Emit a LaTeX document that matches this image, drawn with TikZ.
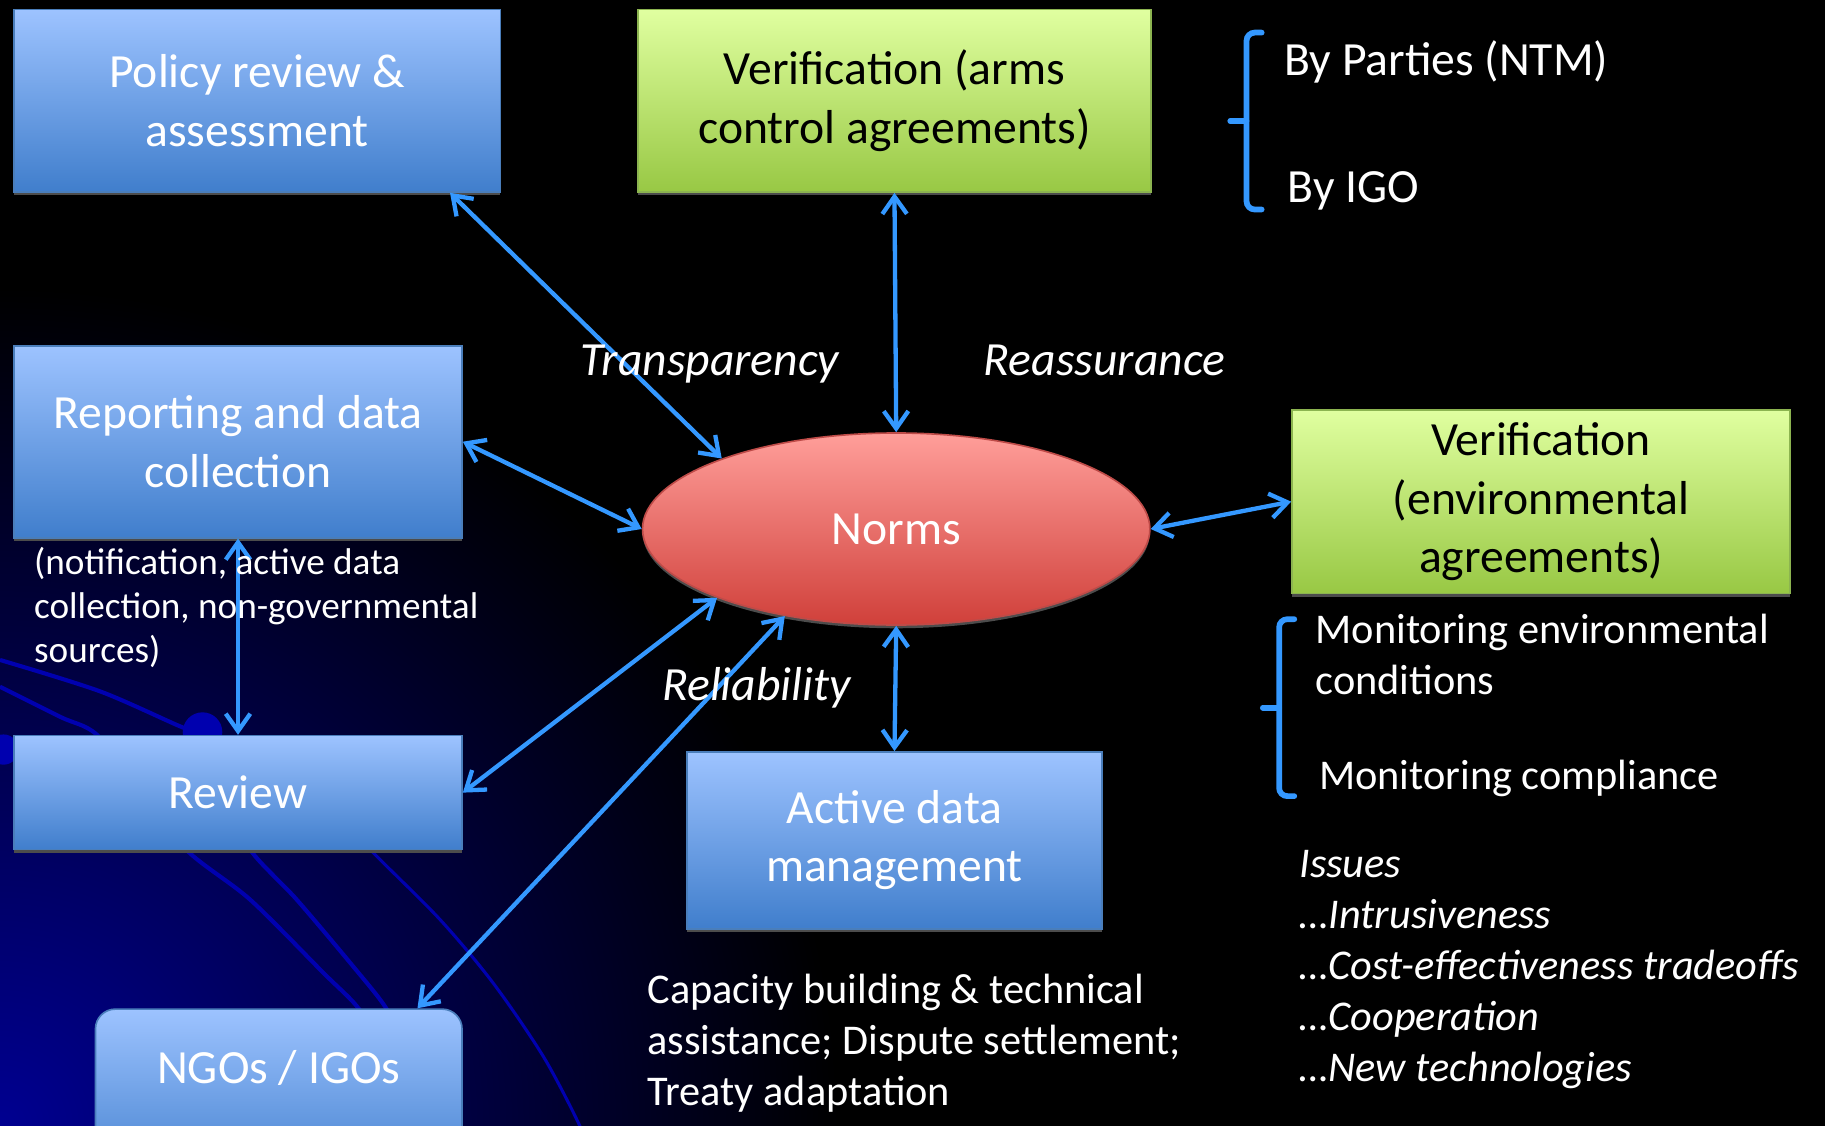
\documentclass[tikz,border=0pt]{standalone}
\usepackage{fontspec}
\setmainfont{Carlito}
\usetikzlibrary{arrows.meta,calc,positioning,shapes.geometric,shadows}

\definecolor{linkblue}{RGB}{52,152,255}
\definecolor{boxtop}{RGB}{157,195,255}
\definecolor{boxbottom}{RGB}{64,126,204}
\definecolor{boxline}{RGB}{74,126,187}
\definecolor{greentop}{RGB}{224,255,160}
\definecolor{greenbottom}{RGB}{152,200,68}
\definecolor{greenline}{RGB}{140,180,80}
\definecolor{normtop}{RGB}{255,158,154}
\definecolor{normbottom}{RGB}{208,64,58}
\definecolor{normline}{RGB}{190,75,72}
\definecolor{swoosh}{RGB}{0,0,175}
\definecolor{glow}{RGB}{0,0,145}

\newcommand{\boxfont}{\fontsize{23.3}{28.45}\selectfont}
\newcommand{\listfont}{\fontsize{20.7}{25}\selectfont}
\newcommand{\notefont}{\fontsize{18.2}{21.6}\selectfont}

\tikzset{%
	bluebox/.style   = {draw=boxline, line width=0.8pt, top color=boxtop, bottom color=boxbottom, text=white, font=\boxfont, align=center, inner sep=0pt, drop shadow={shadow xshift=0pt, shadow yshift=-1.6pt, fill=black!70!white, opacity=1}},
	greenbox/.style  = {draw=greenline, line width=0.8pt, top color=greentop, bottom color=greenbottom, text=black, font=\boxfont, align=center, inner sep=0pt, drop shadow={shadow xshift=0pt, shadow yshift=-1.6pt, fill=black!70!white, opacity=1}},
	normnode/.style  = {ellipse, draw=normline, line width=0.8pt, top color=normtop, bottom color=normbottom, text=white, font=\boxfont, inner sep=0pt, drop shadow={shadow xshift=0pt, shadow yshift=-1.6pt, fill=black!70!white, opacity=1}},
	link/.style      = {draw=linkblue, line width=2.1pt, <->, >={Straight Barb[length=8.5pt,width=12pt]}},
	brace/.style     = {draw=linkblue, line width=2.8pt, rounded corners=4pt, line cap=round},
	swooshline/.style= {draw=swoosh, line width=2pt},
	flowlabel/.style = {text=white, font=\boxfont\itshape, inner sep=0pt},
	sidetext/.style  = {text=white, inner sep=0pt, anchor=west, align=left},
}

\begin{document}
\begin{tikzpicture}[x=0.02cm,y=-0.02cm]
	% background
	\useasboundingbox (0,0) rectangle (1568,967);
	\fill[black] (0,0) rectangle (1568,967);
	\begin{scope}
		\clip (0,0) rectangle (1568,967);
		\shade[inner color=glow, outer color=black] (0,967) circle (720);
		\draw[swooshline] plot[smooth] coordinates {(0,567) (86,594) (157,625) (174,629)};
		\draw[swooshline] plot[smooth] coordinates {(0,590) (52,616) (83,631) (125,680) (160,730) (215,773) (278,836) (307,865) (330,900)};
		\draw[swooshline] plot[smooth] coordinates {(174,629) (200,690) (215,730) (255,773) (304,831) (331,865) (350,900)};
		\draw[swooshline, line width=1.5pt] plot[smooth] coordinates {(250,660) (318,730) (378,790) (424,845) (467,908) (498,967) (505,990)};
		\fill[swoosh] (174,629) circle (17);
		\fill[swoosh] (3,644) circle (13);
	\end{scope}

	% boxes
	\node[bluebox, minimum width=8.36cm, minimum height=3.14cm] (policy) at (221,86.5) {Policy review \&\\assessment};
	\node[greenbox, minimum width=8.82cm, minimum height=3.14cm] (armsver) at (768.5,86.5) {Verification (arms\\control agreements)};
	\node[bluebox, minimum width=7.7cm, minimum height=3.3cm] (report) at (204.5,379.5) {Reporting and data\\collection};
	\node[bluebox, minimum width=7.7cm, minimum height=1.96cm] (review) at (204.5,681) {Review};
	\node[bluebox, rounded corners=0.34cm, minimum width=6.3cm, minimum height=3.06cm, text height=0.6cm, text depth=1.1cm] (ngo) at (239.5,943.5) {NGOs / IGOs};
	\node[bluebox, minimum width=7.14cm, minimum height=3.04cm] (active) at (768.5,722) {Active data\\management};
	\node[greenbox, minimum width=8.56cm, minimum height=3.16cm] (envver) at (1324,431) {Verification\\(environmental\\agreements)};
	\node[normnode, minimum width=8.72cm, minimum height=3.3cm] (norms) at (770,454.5) {Norms};

	% links to the norms
	\draw[link] ($(policy.south east)+(-44,0)$) -- (norms.158);
	\draw[link] (armsver.south) -- (norms.north);
	\draw[link] (report.east) -- (norms.west);
	\draw[link] (envver.west) -- (norms.east);
	\draw[link] (report.south) -- (review.north);
	\draw[link] (review.east) -- (norms.201);
	\draw[link] ($(ngo.north east)+(-39,0)$) -- (norms.218);
	\draw[link] (active.north) -- (norms.south);

	\node[flowlabel] (transp) at (610,313) {Transparency};
	\node[flowlabel] (reassure) at (949,310) {Reassurance};
	\node[flowlabel] (reliab) at (650,591) {Reliability};

	\node[sidetext, font=\notefont] (note) at (29,522) {(notification, active data\\collection, non-governmental\\sources)};

	% right hand notes
	\draw[brace] (1084,28) -- (1071,28) -- (1071,180) -- (1084,180);
	\draw[brace] (1071,104) -- (1057,104);
	\node[sidetext, font=\boxfont] (parties) at (1103,53) {By Parties (NTM)};
	\node[sidetext, font=\boxfont] (igo) at (1106,164) {By IGO};

	\draw[brace] (1112,532) -- (1099,532) -- (1099,684) -- (1112,684);
	\draw[brace] (1099,608) -- (1085,608);
	\node[sidetext, font=\listfont] (envcond) at (1130,562) {Monitoring environmental\\conditions};
	\node[sidetext, font=\listfont] (compliance) at (1133,669) {Monitoring compliance};

	\node[sidetext, font=\listfont\itshape] (issues) at (1116,833) {Issues\\…Intrusiveness\\…Cost-effectiveness tradeoffs\\…Cooperation\\…New technologies};
	\node[sidetext, font=\listfont] (capacity) at (556,896) {Capacity building \& technical\\assistance; Dispute settlement;\\Treaty adaptation};
\end{tikzpicture}
\end{document}
